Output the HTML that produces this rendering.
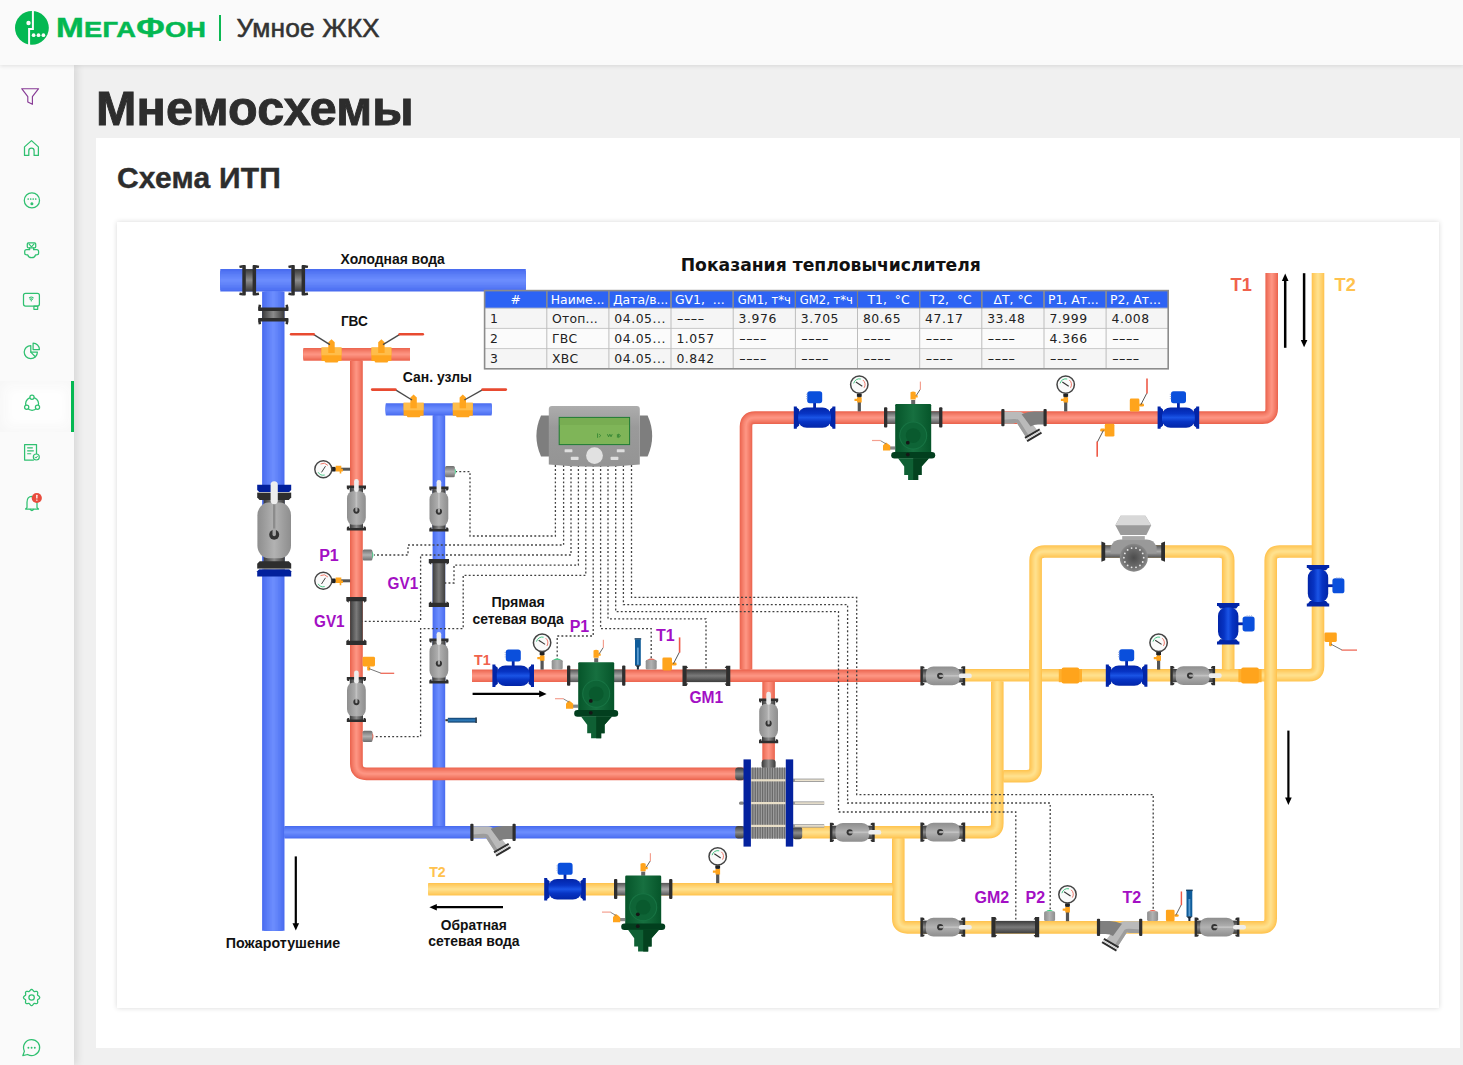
<!DOCTYPE html>
<html lang="ru"><head><meta charset="utf-8"><title>Мнемосхемы</title>
<style>
html,body{margin:0;padding:0}
body{width:1463px;height:1065px;overflow:hidden;background:#f0f0f0;font-family:"Liberation Sans",sans-serif;position:relative}
#hdr{position:absolute;left:0;top:0;width:1463px;height:65px;background:#fafafa;box-shadow:0 1px 4px rgba(0,0,0,.11);z-index:3}
#side{position:absolute;left:0;top:65px;width:74px;height:1000px;background:#fafafa;box-shadow:3px 0 8px rgba(0,0,0,.11);z-index:2}
#icons{position:absolute;left:0;top:0}
#act{position:absolute;left:0;top:315.6px;width:74px;height:51.2px;background:#fefefe;box-shadow:inset 0 0 12px 5px #f7f7f7}
#act i{position:absolute;right:0;top:0;width:2.9px;height:51.2px;background:#04b852}
#logo{position:absolute;left:14px;top:10px}
#brand{position:absolute;left:56px;top:7.6px;font-weight:bold;color:#04b852;white-space:nowrap;font-size:22px;line-height:40px;letter-spacing:.2px;transform:scaleX(1.235);transform-origin:0 0;-webkit-text-stroke:.5px #04b852}
#brand b{font-size:27px}
#sep{position:absolute;left:219.3px;top:15px;width:2.2px;height:26px;background:#0cb853}
#prod{position:absolute;left:236.6px;top:7.6px;font-size:26.4px;line-height:40px;color:#333;white-space:nowrap;letter-spacing:.1px;-webkit-text-stroke:.55px #333}
h1{position:absolute;left:96px;top:79.8px;margin:0;font-size:48.5px;line-height:56px;font-weight:bold;color:#2d2d2d;white-space:nowrap;letter-spacing:.2px;-webkit-text-stroke:.9px #2d2d2d}
#card{position:absolute;left:96px;top:138px;width:1364px;height:910px;background:#fff}
h2{position:absolute;left:117px;top:160px;margin:0;font-size:30px;line-height:36px;font-weight:bold;color:#2d2d2d;white-space:nowrap;letter-spacing:.2px;-webkit-text-stroke:.4px #2d2d2d}
#inner{position:absolute;left:117px;top:222px;width:1322px;height:786px;background:#fff;box-shadow:0 0 5px rgba(0,0,0,.16)}
#dia{position:absolute;left:117px;top:222px}
</style></head><body>
<div id="hdr">
<svg id="logo" width="36" height="36" viewBox="0 0 36 36"><circle cx="17.9" cy="17.9" r="16.9" fill="#04b852"/><path d="M18.9,0 V19 H15.1 V36" stroke="#fafafa" stroke-width="2" fill="none"/><circle cx="14.5" cy="13" r="2.2" fill="#fafafa"/><circle cx="19.6" cy="25.2" r="1.85" fill="#fafafa"/><circle cx="24.5" cy="25.2" r="1.85" fill="#fafafa"/><circle cx="29.4" cy="25.2" r="1.85" fill="#fafafa"/></svg>
<div id="brand"><b>М</b>ЕГА<b>Ф</b>ОН</div><div id="sep"></div><div id="prod">Умное ЖКХ</div>
</div>
<div id="side"><div id="act"><i></i></div>
<svg id="icons" width="74" height="1000" viewBox="0 65 74 1000" fill="none" stroke="#2fc070" stroke-width="1.25" stroke-linecap="round" stroke-linejoin="round"><path d="M21.7,88.7 H38.6 L32.4,96.6 V104.3 L27.8,101.9 V96.6 Z" stroke="#873a95" stroke-width="1.15"/><path d="M24.5,155.4 V146.9 L31.5,140.6 L38.4,146.9 V155.4 H34.1 V150.8 Q34.1,148.1 31.5,148.1 Q28.8,148.1 28.8,150.8 V155.4 Z"/><circle cx="31.9" cy="200.4" r="7.6"/><path d="M28.2,199h.01M30.7,199h.01M33.2,199h.01M35.7,199h.01" stroke-width="1.7"/><circle cx="31.9" cy="203.7" r=".9" fill="#2fc070"/><rect x="27.3" y="242.9" width="8.4" height="4.9" rx="1"/><path d="M28.9,243.8 L31.5,246.9 L34.1,243.8" stroke-width="1.1"/><path d="M29.6,247.8 V249.7 H26.6 Q24.7,249.7 24.7,251.6 V252.9 Q24.7,254.8 26.6,254.8 H27.8 A3.9,3.5 0 0 0 35.5,254.8 H36.7 Q38.6,254.8 38.6,252.9 V251.6 Q38.6,249.7 36.7,249.7 H33.6 V247.8"/><rect x="23.5" y="293.3" width="15.9" height="12.7" rx="2"/><path d="M29.4,297.8 Q31.3,296.2 33.2,297.8 M30.2,299.3 Q31.3,298.4 32.4,299.3" stroke-width="1.1"/><circle cx="31.3" cy="300.8" r=".7" fill="#2fc070" stroke="none"/><rect x="33.9" y="306.2" width="3.8" height="3.1" stroke-width="1.2"/><path d="M30.8,345.5 A6.6,6.6 0 1 0 37.4,352.1 H30.8 Z"/><path d="M33.1,343.2 A6.3,6.3 0 0 1 39.4,349.5 H33.1 Z"/><path d="M30.8,352.1 L35.3,356.7"/><circle cx="32.1" cy="403.8" r="6.5"/><circle cx="32" cy="397.3" r="2.1" fill="#fdfdfd"/><circle cx="26.7" cy="407.3" r="2.1" fill="#fdfdfd"/><circle cx="37.5" cy="407.3" r="2.1" fill="#fdfdfd"/><path d="M36.5,453.6 V444.6 H24.6 V460 H33.4"/><path d="M27.6,447.8H32.4M27.6,450.8H33.4M27.6,453.7H30.8" stroke-width="1.15"/><circle cx="36.3" cy="457" r="3" stroke-width="1.15"/><path d="M34.9,457.1l1,1l1.7,-2" stroke-width="1"/><path d="M27,507.6 V502.2 Q27,496.4 32,496.3 Q37,496.4 37,502.2 V507.6 L38.5,509 H25.6 Z"/><path d="M30.2,509.4 Q31.9,511.6 33.6,509.4"/><circle cx="36.8" cy="498" r="5.1" fill="#e84c3d" stroke="none"/><rect x="36.2" y="494.8" width="1.3" height="3.8" rx=".5" fill="#fff" stroke="none"/><rect x="36.2" y="499.5" width="1.3" height="1.3" rx=".5" fill="#fff" stroke="none"/><path d="M31.60,989.35 L32.37,989.64 L33.02,990.34 L33.54,991.09 L34.07,991.54 L34.76,991.59 L35.66,991.43 L36.61,991.39 L37.36,991.74 L37.71,992.49 L37.67,993.44 L37.51,994.34 L37.56,995.03 L38.01,995.56 L38.76,996.08 L39.46,996.73 L39.75,997.50 L39.46,998.27 L38.76,998.92 L38.01,999.44 L37.56,999.97 L37.51,1000.66 L37.67,1001.56 L37.71,1002.51 L37.36,1003.26 L36.61,1003.61 L35.66,1003.57 L34.76,1003.41 L34.07,1003.46 L33.54,1003.91 L33.02,1004.66 L32.37,1005.36 L31.60,1005.65 L30.83,1005.36 L30.18,1004.66 L29.66,1003.91 L29.13,1003.46 L28.44,1003.41 L27.54,1003.57 L26.59,1003.61 L25.84,1003.26 L25.49,1002.51 L25.53,1001.56 L25.69,1000.66 L25.64,999.97 L25.19,999.44 L24.44,998.92 L23.74,998.27 L23.45,997.50 L23.74,996.73 L24.44,996.08 L25.19,995.56 L25.64,995.03 L25.69,994.34 L25.53,993.44 L25.49,992.49 L25.84,991.74 L26.59,991.39 L27.54,991.43 L28.44,991.59 L29.13,991.54 L29.66,991.09 L30.18,990.34 L30.83,989.64 L31.60,989.35 Z"/><circle cx="31.6" cy="997.5" r="2.7"/><path d="M31.6,1039.6 A8,8 0 1 1 27.6,1054.5 L22.8,1055.6 L24.4,1051.2 A8,8 0 0 1 31.6,1039.6 Z"/><path d="M28.4,1047.7h.01M31.6,1047.7h.01M34.8,1047.7h.01" stroke-width="1.9"/></svg>
</div>
<h1>Мнемосхемы</h1>
<div id="card"></div>
<h2>Схема ИТП</h2>
<div id="inner"></div>
<svg id="dia" width="1322" height="786" viewBox="117 222 1322 786">
<defs>
<linearGradient id="gGreyH" x1="0" x2="1" y1="0" y2="0"><stop offset="0" stop-color="#8e8e8e"/><stop offset=".22" stop-color="#9d9d9d"/><stop offset=".5" stop-color="#b2b2b2"/><stop offset=".78" stop-color="#9d9d9d"/><stop offset="1" stop-color="#8e8e8e"/></linearGradient>
<linearGradient id="gGreyV" x1="0" x2="0" y1="0" y2="1"><stop offset="0" stop-color="#555"/><stop offset=".5" stop-color="#a8a8a8"/><stop offset="1" stop-color="#555"/></linearGradient>
<linearGradient id="gDarkH" x1="0" x2="1" y1="0" y2="0"><stop offset="0" stop-color="#3a3a3a"/><stop offset=".5" stop-color="#8c8c8c"/><stop offset="1" stop-color="#3a3a3a"/></linearGradient>
<linearGradient id="gDarkV" x1="0" x2="0" y1="0" y2="1"><stop offset="0" stop-color="#3a3a3a"/><stop offset=".5" stop-color="#8c8c8c"/><stop offset="1" stop-color="#3a3a3a"/></linearGradient>
<linearGradient id="gMeterH" x1="0" x2="1" y1="0" y2="0"><stop offset="0" stop-color="#3c3c3c"/><stop offset=".5" stop-color="#7a7a7a"/><stop offset="1" stop-color="#3c3c3c"/></linearGradient>
<linearGradient id="gBlueV" x1="0" x2="0" y1="0" y2="1"><stop offset="0" stop-color="#0225a8"/><stop offset=".3" stop-color="#0734c4"/><stop offset=".5" stop-color="#1a54e6"/><stop offset=".7" stop-color="#0734c4"/><stop offset="1" stop-color="#0225a8"/></linearGradient>
<linearGradient id="gGreenH" x1="0" x2="1" y1="0" y2="0"><stop offset="0" stop-color="#06552a"/><stop offset=".5" stop-color="#177040"/><stop offset="1" stop-color="#06552a"/></linearGradient>
<radialGradient id="gPump"><stop offset="0" stop-color="#4c4c4c"/><stop offset=".7" stop-color="#6e6e6e"/><stop offset="1" stop-color="#8a8a8a"/></radialGradient>
<linearGradient id="gSensor" x1="0" x2="0" y1="0" y2="1"><stop offset="0" stop-color="#6e6e6e"/><stop offset=".5" stop-color="#b0b0b0"/><stop offset="1" stop-color="#6e6e6e"/></linearGradient>
<linearGradient id="gThermo" x1="0" x2="0" y1="0" y2="1"><stop offset="0" stop-color="#0d3b66"/><stop offset=".5" stop-color="#2f7fc0"/><stop offset="1" stop-color="#0d3b66"/></linearGradient>
<linearGradient id="gDev" x1="0" x2="0" y1="0" y2="1"><stop offset="0" stop-color="#adadad"/><stop offset=".35" stop-color="#9a9a9a"/><stop offset="1" stop-color="#949494"/></linearGradient>

<!-- small ball valve, vertical, handle up. centre 0,0 ; height 44.5 width 19 -->
<g id="bv">
 <rect x="-6.6" y="-20.5" width="13.2" height="41" fill="url(#gDarkH)"/>
 <path d="M-9.6,-22.4h19.2v2.6l-.9,1.4h-1.5v-1.5h-14.4v1.5h-1.5l-.9,-1.4z" fill="#2e2e2e"/>
 <path d="M-9.6,22.4h19.2v-2.6l-.9,-1.4h-1.5v1.5h-14.4v-1.5h-1.5l-.9,1.4z" fill="#2e2e2e"/>
 <rect x="-9.4" y="-16.8" width="18.8" height="33.6" rx="6" ry="7.4" fill="url(#gGreyH)"/>
 <rect x="-0.8" y="-16" width="1.6" height="18" fill="#c2c2c2"/>
 <rect x="-2.3" y="-29" width="4.6" height="13" rx="2.2" fill="#eeeeee"/>
 <circle cx="0" cy="2.6" r="3.1" fill="#333"/>
 <path d="M-1.1,-1 h2.2 v3.7 a1.1,1.1 0 0 1 -2.2,0z" fill="#aaaaaa"/>
</g>

<g id="bvn">
 <rect x="-6.6" y="-20.5" width="13.2" height="41" fill="url(#gDarkH)"/>
 <path d="M-9.6,-22.4h19.2v2.6l-.9,1.4h-1.5v-1.5h-14.4v1.5h-1.5l-.9,-1.4z" fill="#2e2e2e"/>
 <path d="M-9.6,22.4h19.2v-2.6l-.9,-1.4h-1.5v1.5h-14.4v-1.5h-1.5l-.9,1.4z" fill="#2e2e2e"/>
 <rect x="-9.4" y="-16.8" width="18.8" height="33.6" rx="6" ry="7.4" fill="url(#gGreyH)"/>
 <rect x="-0.8" y="-16" width="1.6" height="18" fill="#c2c2c2"/>
 <circle cx="0" cy="2.6" r="3.1" fill="#333"/>
 <path d="M-1.1,-1 h2.2 v3.7 a1.1,1.1 0 0 1 -2.2,0z" fill="#aaaaaa"/>
</g>
<!-- big ball valve on main blue pipe, centre 0,0 (274,530.6) -->
<g id="bvbig">
 <rect x="-10.6" y="-40" width="21.2" height="80" fill="url(#gDarkH)"/>
 <path d="M-17,-45.9h34v5.3l-2,2h-30l-2,-2z" fill="#02209c"/>
 <path d="M-17,45.9h34v-5.3l-2,-2h-30l-2,2z" fill="#02209c"/>
 <rect x="-17" y="-38.6" width="34" height="1" fill="#ddd"/>
 <rect x="-17" y="37.6" width="34" height="1" fill="#ddd"/>
 <path d="M-17,-37.8h34v4.6l-2.4,2.6h-29.2l-2.4,-2.6z" fill="#2e2e2e"/>
 <path d="M-17,37.8h34v-4.6l-2.4,-2.6h-29.2l-2.4,2.6z" fill="#2e2e2e"/>
 <rect x="-16.8" y="-28" width="33.6" height="55.6" rx="11" ry="13" fill="url(#gGreyH)"/>
 <rect x="-1.2" y="-27" width="2.4" height="30" fill="#8c8c8c"/>
 <rect x="-3.6" y="-49.4" width="7.2" height="23" rx="3.6" fill="#eeeeee"/>
 <circle cx="0" cy="4.2" r="5" fill="#333"/>
 <path d="M-1.7,-2 h3.4 v6 a1.7,1.7 0 0 1 -3.4,0z" fill="#a6a6a6"/>
</g>

<!-- black flange coupling, for horizontal pipe of width 22; centre 0,0; width 13.7 -->
<g id="fl">
 <rect x="-4" y="-11.2" width="8" height="22.4" fill="url(#gDarkV)"/>
 <path d="M-6.4,-15.2 l-3.6,.6 l.5,2.4 l3.1,-.4z M-6.4,15.2 l-3.6,-.6 l.5,-2.4 l3.1,.4z M6.4,-15.2 l3.6,.6 l-.5,2.4 l-3.1,-.4z M6.4,15.2 l3.6,-.6 l-.5,-2.4 l-3.1,.4z" fill="#2e2e2e"/>
 <rect x="-6.9" y="-15.2" width="3.5" height="30.4" rx=".8" fill="#2e2e2e"/>
 <rect x="3.4" y="-15.2" width="3.5" height="30.4" rx=".8" fill="#2e2e2e"/>
</g>

<!-- dark meter (GV/GM), vertical, centre 0,0, height h=47.7 (flange to flange), pipe width 13 -->
<g id="mt">
 <rect x="-6.3" y="-20" width="12.6" height="40" fill="url(#gMeterH)"/>
 <path d="M-10.1,-23.9h20.2v4.2h-.4l-2,1.4v-1.4h-15.4v1.4l-2,-1.4h-.4z" fill="#2e2e2e"/>
 <path d="M-10.1,23.9h20.2v-4.2h-.4l-2,-1.4v1.4h-15.4v-1.4l-2,1.4h-.4z" fill="#2e2e2e"/>
</g>

<!-- blue flowmeter, horizontal; centre of pipe 0,0; width 41.6 -->
<g id="fm">
 <rect x="-1.4" y="-15.5" width="2.8" height="6" fill="#0225a8"/>
 <rect x="-7.4" y="-26.4" width="15" height="12" rx="2.6" fill="#0a4fdc"/>
 <path d="M-8.6,-23.3h1.4M-8.6,-21.1h1.4M-8.6,-18.9h1.4" stroke="#9aa8d8" stroke-width=".8"/>
 <path d="M-20.8,-11.2h3v1.2l2.4,2v16l-2.4,2v1.2h-3zM20.8,-11.2h-3v1.2l-2.4,2v16l2.4,2v1.2h3z" fill="#0225a8"/>
 <rect x="-16.4" y="-10.2" width="32.8" height="20.4" rx="8.6" ry="7.6" fill="url(#gBlueV)"/>
</g>

<!-- gauge (manometer) with stem down. circle centre 0,0 r 9.4 ; stem to y=+26.5 -->
<g id="gauge">
 <rect x="-1.6" y="9" width="3.2" height="17.8" fill="#555"/>
 <rect x="-2.4" y="9" width="4.8" height="3.2" fill="#222"/>
 <path d="M-4.8,14.2 h2.6 v-1.6 h4.6 v5.4 h-4.6 v-1.6 h-2.6 z" fill="#ffa41c"/>
 <circle r="8.7" fill="#fafafa" stroke="#444" stroke-width="1.5"/>
 <path d="M-5.6,-1.2 A5.8,5.8 0 0 1 1.5,-5.6" fill="none" stroke="#35c27a" stroke-width=".9"/>
 <path d="M3.6,-4.6 A5.8,5.8 0 0 1 4.8,3.2" fill="none" stroke="#ee6a5a" stroke-width=".9"/>
 <path d="M-3.4,-2.6 L3,1.6" stroke="#333" stroke-width="1.1"/>
</g>
<!-- gauge with stem to the right (for vertical red pipe). circle centre 0,0; stem to x=+26.5 -->
<g id="gaugeL">
 <rect x="9" y="-1.5" width="17.8" height="3" fill="#555"/>
 <rect x="8.6" y="-2.3" width="3.6" height="4.6" fill="#222"/>
 <path d="M12.4,-3.4 h5.6 v3 h1.6 v2.6 h-1.6 v2.2 h-1.6 v-2.2 h-4 z" fill="#ffa41c"/>
 <circle r="8.5" fill="#fafafa" stroke="#444" stroke-width="1.4"/>
 <path d="M-5.2,3 A6,6 0 0 0 1.4,5.8" fill="none" stroke="#35c27a" stroke-width=".9"/>
 <path d="M-2.8,-5.2 A6,6 0 0 1 4.6,-3.8" fill="none" stroke="#ee6a5a" stroke-width=".9"/>
 <path d="M-1.8,3.2 L2.2,-3" stroke="#444" stroke-width="1"/>
</g>

<!-- sensor sitting on top of horizontal pipe: base at y=0, extends up 10.6; centre x=0 -->
<g id="snG"><path d="M-4,-9.6 Q0,-12.4 4,-9.6z" fill="#2fd07c"/><rect x="-5.5" y="-9.8" width="11" height="9.8" rx="1.5" fill="url(#gGreyH)"/></g>
<g id="snR"><path d="M-4,-9.6 Q0,-12.4 4,-9.6z" fill="#f0604c"/><rect x="-5.5" y="-9.8" width="11" height="9.8" rx="1.5" fill="url(#gGreyH)"/></g>

<!-- thermometer vertical, bottom at 0, up 28 -->
<g id="th"><rect x="-3.3" y="-31.4" width="6.6" height="1.5" fill="#123a5c"/><rect x="-2.9" y="-30.2" width="5.8" height="26" fill="#0f5c9a"/><rect x="-.9" y="-22" width="1.8" height="17" fill="#5a9bd0"/><path d="M-2.9,-4.4 H2.9 L1,-2.6 V0 H-1 V-2.6z" fill="#1a2a3a"/></g>

<!-- green filter; pipe centre 0,0 ; body centre x 0 -->
<g id="gf">
 <rect x="-27" y="-6.3" width="54" height="12.6" fill="url(#gGreyV)"/>
 <rect x="-29.2" y="-10.3" width="3.3" height="20.2" rx="1" fill="#2e2e2e"/>
 <rect x="25.9" y="-10.3" width="3.3" height="20.2" rx="1" fill="#2e2e2e"/>
 <rect x="-2" y="-17.6" width="4" height="4.2" fill="#666"/>
 <path d="M-2.7,-25.4 q2.6,-1.4 5.2,0 v3 h2 v2.4 h-2 v2 h-5.2z" fill="#ffa41c"/>
 <path d="M3,-22 L7,-28.2" stroke="#555" stroke-width=".9" fill="none"/>
 <path d="M7.2,-28 V-36" stroke="#f4a090" stroke-width="1.2" fill="none"/>
 <rect x="-23.2" y="28.8" width="5.2" height="3.2" fill="#888"/>
 <path d="M-30.2,33 v-5 q1.5,-2.4 3,-3.2 q1.5,.8 4.2,3.2 v5z" fill="#ffa41c"/>
 <path d="M-27,26.4 L-32.8,23" stroke="#777" stroke-width=".9" fill="none"/>
 <path d="M-32.6,22.9 H-41.2" stroke="#f4a090" stroke-width="1.2" fill="none"/>
 <rect x="-18" y="-13.6" width="36" height="49" rx="1.2" fill="url(#gGreenH)"/>
 <circle cx="0" cy="18" r="14" fill="#187444" />
 <circle cx="0" cy="18" r="13" fill="#0e6436"/>
 <circle cx="0" cy="18" r="7.4" fill="#095a2e"/>
 <circle cx="-5.4" cy="25.1" r="1.9" fill="#161616"/>
 <rect x="-22" y="34.3" width="44" height="6.6" rx="3.3" fill="#023f1e"/>
 <circle cx="-5.4" cy="37" r="1.9" fill="#161616"/>
 <path d="M-15.2,40.6 H15.8 L8.4,49 V57.4 H5 V62.4 H-5.1 V57.4 H-9 V49 z" fill="#0f6034"/>
 <path d="M0,40.6 H15.8 L8.4,49 V57.4 H5 V62.4 H0 z" fill="#04421f"/>
</g>

<!-- Y strainer on horizontal pipe (w13); centre 0,0 ; width 45; branch down-right -->
<g id="ys">
 <path d="M-21,-5.9 H-5 Q-1,-5.9 1.4,-2.4 L13.4,12.6 L2,19.6 L-7.4,5 Q-8.4,5.8 -11,5.8 H-21z" fill="#bababa"/>
 <path d="M-21,5.8 H-11 Q-8.4,5.8 -7.4,5 L2,19.6 L4.8,17.9 L-5,2.6 Q-7,1.2 -10,1.5 L-21,2.2z" fill="#9c9c9c"/>
 <path d="M-2.4,-3.4 Q4,-6.2 10,-6.2 H21 V6.8 H14 Q9.4,6.8 6.6,8.9z" fill="#7f7f7f"/>
 <rect x="-22.7" y="-8.5" width="3.2" height="17.2" rx="1" fill="#2e2e2e"/>
 <rect x="19.5" y="-8.5" width="3.2" height="17.2" rx="1" fill="#2e2e2e"/>
 <path d="M1,20.2 L15.7,11.7" stroke="#2e2e2e" stroke-width="2" fill="none"/>
 <path d="M3.1,23.5 L17.5,15" stroke="#2e2e2e" stroke-width="2" fill="none"/>
 <path d="M2,21.9 L16.6,13.3" stroke="#d0d0d0" stroke-width="1.3" fill="none"/>
</g>

<!-- yellow small tap on top of pipe: base y=0 centre x=0; handle goes up-right -->
<g id="tapU">
 <rect x="-5.2" y="-12.6" width="9.6" height="12.8" rx="1.4" fill="#ffa41c"/>
 <rect x="4" y="-7.6" width="5" height="3" rx="1.4" fill="#ffa41c"/>
 <path d="M5.8,-6.4 L11.8,-18" stroke="#555" stroke-width="1" fill="none"/>
 <path d="M12,-17.6 V-32.8" stroke="#ee5a48" stroke-width="1.6" fill="none"/>
</g>

<!-- orange coupling on horizontal yellow pipe, centre 0,0 -->
<g id="cp"><rect x="-11.6" y="-6.6" width="23.2" height="13.2" fill="#ffb02e"/><rect x="-8.8" y="-8" width="17.6" height="16" rx="2" fill="#ffa41c"/></g>

<marker id="ah" viewBox="0 0 10 10" refX="8" refY="5" markerWidth="3.8" markerHeight="3.1" orient="auto-start-reverse"><path d="M0,0L10,5L0,10z" fill="#000"/></marker>
</defs>
<g id="pipes">
<path d="M1312.2,551.5 L1279.70,551.50 Q1270.7,551.5 1270.70,560.50 L1270.70,918.40 Q1270.7,927.4 1261.70,927.40 L907.30,927.40 Q898.3,927.4 898.30,918.40 L898.3,838.2" fill="none" stroke="#ffc451" stroke-width="12.60" stroke-linecap="butt" stroke-linejoin="round"/><path d="M1312.2,551.5 L1279.70,551.50 Q1270.7,551.5 1270.70,560.50 L1270.70,918.40 Q1270.7,927.4 1261.70,927.40 L907.30,927.40 Q898.3,927.4 898.30,918.40 L898.3,838.2" fill="none" stroke="#ffca5d" stroke-width="10.79" stroke-linecap="butt" stroke-linejoin="round"/><path d="M1312.2,551.5 L1279.70,551.50 Q1270.7,551.5 1270.70,560.50 L1270.70,918.40 Q1270.7,927.4 1261.70,927.40 L907.30,927.40 Q898.3,927.4 898.30,918.40 L898.3,838.2" fill="none" stroke="#ffce67" stroke-width="8.99" stroke-linecap="butt" stroke-linejoin="round"/><path d="M1312.2,551.5 L1279.70,551.50 Q1270.7,551.5 1270.70,560.50 L1270.70,918.40 Q1270.7,927.4 1261.70,927.40 L907.30,927.40 Q898.3,927.4 898.30,918.40 L898.3,838.2" fill="none" stroke="#ffd371" stroke-width="7.18" stroke-linecap="butt" stroke-linejoin="round"/><path d="M1312.2,551.5 L1279.70,551.50 Q1270.7,551.5 1270.70,560.50 L1270.70,918.40 Q1270.7,927.4 1261.70,927.40 L907.30,927.40 Q898.3,927.4 898.30,918.40 L898.3,838.2" fill="none" stroke="#ffd77a" stroke-width="5.38" stroke-linecap="butt" stroke-linejoin="round"/><path d="M1312.2,551.5 L1279.70,551.50 Q1270.7,551.5 1270.70,560.50 L1270.70,918.40 Q1270.7,927.4 1261.70,927.40 L907.30,927.40 Q898.3,927.4 898.30,918.40 L898.3,838.2" fill="none" stroke="#ffdc83" stroke-width="3.57" stroke-linecap="butt" stroke-linejoin="round"/><path d="M1312.2,551.5 L1279.70,551.50 Q1270.7,551.5 1270.70,560.50 L1270.70,918.40 Q1270.7,927.4 1261.70,927.40 L907.30,927.40 Q898.3,927.4 898.30,918.40 L898.3,838.2" fill="none" stroke="#ffe08c" stroke-width="1.76" stroke-linecap="butt" stroke-linejoin="round"/>
<path d="M428.2,889.2 H892.4" fill="none" stroke="#ffc451" stroke-width="12.40" stroke-linecap="butt" stroke-linejoin="round"/><path d="M428.2,889.2 H892.4" fill="none" stroke="#ffca5d" stroke-width="10.62" stroke-linecap="butt" stroke-linejoin="round"/><path d="M428.2,889.2 H892.4" fill="none" stroke="#ffce67" stroke-width="8.85" stroke-linecap="butt" stroke-linejoin="round"/><path d="M428.2,889.2 H892.4" fill="none" stroke="#ffd371" stroke-width="7.07" stroke-linecap="butt" stroke-linejoin="round"/><path d="M428.2,889.2 H892.4" fill="none" stroke="#ffd77a" stroke-width="5.29" stroke-linecap="butt" stroke-linejoin="round"/><path d="M428.2,889.2 H892.4" fill="none" stroke="#ffdc83" stroke-width="3.51" stroke-linecap="butt" stroke-linejoin="round"/><path d="M428.2,889.2 H892.4" fill="none" stroke="#ffe08c" stroke-width="1.74" stroke-linecap="butt" stroke-linejoin="round"/>
<path d="M965,675.3 H1240" fill="none" stroke="#ffc451" stroke-width="12.60" stroke-linecap="butt" stroke-linejoin="round"/><path d="M965,675.3 H1240" fill="none" stroke="#ffca5d" stroke-width="10.79" stroke-linecap="butt" stroke-linejoin="round"/><path d="M965,675.3 H1240" fill="none" stroke="#ffce67" stroke-width="8.99" stroke-linecap="butt" stroke-linejoin="round"/><path d="M965,675.3 H1240" fill="none" stroke="#ffd371" stroke-width="7.18" stroke-linecap="butt" stroke-linejoin="round"/><path d="M965,675.3 H1240" fill="none" stroke="#ffd77a" stroke-width="5.38" stroke-linecap="butt" stroke-linejoin="round"/><path d="M965,675.3 H1240" fill="none" stroke="#ffdc83" stroke-width="3.57" stroke-linecap="butt" stroke-linejoin="round"/><path d="M965,675.3 H1240" fill="none" stroke="#ffe08c" stroke-width="1.76" stroke-linecap="butt" stroke-linejoin="round"/>
<path d="M1228.2,669.2 L1228.20,560.50 Q1228.2,551.5 1219.20,551.50 L1044.60,551.50 Q1035.6,551.5 1035.60,560.50 L1035.60,767.20 Q1035.6,776.2 1026.60,776.20 L1003.4,776.2" fill="none" stroke="#ffc451" stroke-width="12.60" stroke-linecap="butt" stroke-linejoin="round"/><path d="M1228.2,669.2 L1228.20,560.50 Q1228.2,551.5 1219.20,551.50 L1044.60,551.50 Q1035.6,551.5 1035.60,560.50 L1035.60,767.20 Q1035.6,776.2 1026.60,776.20 L1003.4,776.2" fill="none" stroke="#ffca5d" stroke-width="10.79" stroke-linecap="butt" stroke-linejoin="round"/><path d="M1228.2,669.2 L1228.20,560.50 Q1228.2,551.5 1219.20,551.50 L1044.60,551.50 Q1035.6,551.5 1035.60,560.50 L1035.60,767.20 Q1035.6,776.2 1026.60,776.20 L1003.4,776.2" fill="none" stroke="#ffce67" stroke-width="8.99" stroke-linecap="butt" stroke-linejoin="round"/><path d="M1228.2,669.2 L1228.20,560.50 Q1228.2,551.5 1219.20,551.50 L1044.60,551.50 Q1035.6,551.5 1035.60,560.50 L1035.60,767.20 Q1035.6,776.2 1026.60,776.20 L1003.4,776.2" fill="none" stroke="#ffd371" stroke-width="7.18" stroke-linecap="butt" stroke-linejoin="round"/><path d="M1228.2,669.2 L1228.20,560.50 Q1228.2,551.5 1219.20,551.50 L1044.60,551.50 Q1035.6,551.5 1035.60,560.50 L1035.60,767.20 Q1035.6,776.2 1026.60,776.20 L1003.4,776.2" fill="none" stroke="#ffd77a" stroke-width="5.38" stroke-linecap="butt" stroke-linejoin="round"/><path d="M1228.2,669.2 L1228.20,560.50 Q1228.2,551.5 1219.20,551.50 L1044.60,551.50 Q1035.6,551.5 1035.60,560.50 L1035.60,767.20 Q1035.6,776.2 1026.60,776.20 L1003.4,776.2" fill="none" stroke="#ffdc83" stroke-width="3.57" stroke-linecap="butt" stroke-linejoin="round"/><path d="M1228.2,669.2 L1228.20,560.50 Q1228.2,551.5 1219.20,551.50 L1044.60,551.50 Q1035.6,551.5 1035.60,560.50 L1035.60,767.20 Q1035.6,776.2 1026.60,776.20 L1003.4,776.2" fill="none" stroke="#ffe08c" stroke-width="1.76" stroke-linecap="butt" stroke-linejoin="round"/>
<path d="M1318,273 L1318.00,666.30 Q1318,675.3 1309.00,675.30 L1230,675.3" fill="none" stroke="#ffc451" stroke-width="12.60" stroke-linecap="butt" stroke-linejoin="round"/><path d="M1318,273 L1318.00,666.30 Q1318,675.3 1309.00,675.30 L1230,675.3" fill="none" stroke="#ffca5d" stroke-width="10.79" stroke-linecap="butt" stroke-linejoin="round"/><path d="M1318,273 L1318.00,666.30 Q1318,675.3 1309.00,675.30 L1230,675.3" fill="none" stroke="#ffce67" stroke-width="8.99" stroke-linecap="butt" stroke-linejoin="round"/><path d="M1318,273 L1318.00,666.30 Q1318,675.3 1309.00,675.30 L1230,675.3" fill="none" stroke="#ffd371" stroke-width="7.18" stroke-linecap="butt" stroke-linejoin="round"/><path d="M1318,273 L1318.00,666.30 Q1318,675.3 1309.00,675.30 L1230,675.3" fill="none" stroke="#ffd77a" stroke-width="5.38" stroke-linecap="butt" stroke-linejoin="round"/><path d="M1318,273 L1318.00,666.30 Q1318,675.3 1309.00,675.30 L1230,675.3" fill="none" stroke="#ffdc83" stroke-width="3.57" stroke-linecap="butt" stroke-linejoin="round"/><path d="M1318,273 L1318.00,666.30 Q1318,675.3 1309.00,675.30 L1230,675.3" fill="none" stroke="#ffe08c" stroke-width="1.76" stroke-linecap="butt" stroke-linejoin="round"/>
<path d="M1270.7,600 L1270.7,700" fill="none" stroke="#ffc451" stroke-width="12.60" stroke-linecap="butt" stroke-linejoin="round"/><path d="M1270.7,600 L1270.7,700" fill="none" stroke="#ffca5d" stroke-width="10.79" stroke-linecap="butt" stroke-linejoin="round"/><path d="M1270.7,600 L1270.7,700" fill="none" stroke="#ffce67" stroke-width="8.99" stroke-linecap="butt" stroke-linejoin="round"/><path d="M1270.7,600 L1270.7,700" fill="none" stroke="#ffd371" stroke-width="7.18" stroke-linecap="butt" stroke-linejoin="round"/><path d="M1270.7,600 L1270.7,700" fill="none" stroke="#ffd77a" stroke-width="5.38" stroke-linecap="butt" stroke-linejoin="round"/><path d="M1270.7,600 L1270.7,700" fill="none" stroke="#ffdc83" stroke-width="3.57" stroke-linecap="butt" stroke-linejoin="round"/><path d="M1270.7,600 L1270.7,700" fill="none" stroke="#ffe08c" stroke-width="1.76" stroke-linecap="butt" stroke-linejoin="round"/>
<path d="M1035.6,640 L1035.6,700" fill="none" stroke="#ffc451" stroke-width="12.60" stroke-linecap="butt" stroke-linejoin="round"/><path d="M1035.6,640 L1035.6,700" fill="none" stroke="#ffca5d" stroke-width="10.79" stroke-linecap="butt" stroke-linejoin="round"/><path d="M1035.6,640 L1035.6,700" fill="none" stroke="#ffce67" stroke-width="8.99" stroke-linecap="butt" stroke-linejoin="round"/><path d="M1035.6,640 L1035.6,700" fill="none" stroke="#ffd371" stroke-width="7.18" stroke-linecap="butt" stroke-linejoin="round"/><path d="M1035.6,640 L1035.6,700" fill="none" stroke="#ffd77a" stroke-width="5.38" stroke-linecap="butt" stroke-linejoin="round"/><path d="M1035.6,640 L1035.6,700" fill="none" stroke="#ffdc83" stroke-width="3.57" stroke-linecap="butt" stroke-linejoin="round"/><path d="M1035.6,640 L1035.6,700" fill="none" stroke="#ffe08c" stroke-width="1.76" stroke-linecap="butt" stroke-linejoin="round"/>
<path d="M997.3,681.4 L997.30,823.20 Q997.3,832.2 988.30,832.20 L793,832.2" fill="none" stroke="#ffc451" stroke-width="12.60" stroke-linecap="butt" stroke-linejoin="round"/><path d="M997.3,681.4 L997.30,823.20 Q997.3,832.2 988.30,832.20 L793,832.2" fill="none" stroke="#ffca5d" stroke-width="10.79" stroke-linecap="butt" stroke-linejoin="round"/><path d="M997.3,681.4 L997.30,823.20 Q997.3,832.2 988.30,832.20 L793,832.2" fill="none" stroke="#ffce67" stroke-width="8.99" stroke-linecap="butt" stroke-linejoin="round"/><path d="M997.3,681.4 L997.30,823.20 Q997.3,832.2 988.30,832.20 L793,832.2" fill="none" stroke="#ffd371" stroke-width="7.18" stroke-linecap="butt" stroke-linejoin="round"/><path d="M997.3,681.4 L997.30,823.20 Q997.3,832.2 988.30,832.20 L793,832.2" fill="none" stroke="#ffd77a" stroke-width="5.38" stroke-linecap="butt" stroke-linejoin="round"/><path d="M997.3,681.4 L997.30,823.20 Q997.3,832.2 988.30,832.20 L793,832.2" fill="none" stroke="#ffdc83" stroke-width="3.57" stroke-linecap="butt" stroke-linejoin="round"/><path d="M997.3,681.4 L997.30,823.20 Q997.3,832.2 988.30,832.20 L793,832.2" fill="none" stroke="#ffe08c" stroke-width="1.76" stroke-linecap="butt" stroke-linejoin="round"/>
<path d="M220.3,280.3 H525.8" fill="none" stroke="#4a6df0" stroke-width="22.40" stroke-linecap="butt" stroke-linejoin="round"/><path d="M220.3,280.3 H525.8" fill="none" stroke="#5173f3" stroke-width="19.19" stroke-linecap="butt" stroke-linejoin="round"/><path d="M220.3,280.3 H525.8" fill="none" stroke="#5679f5" stroke-width="15.98" stroke-linecap="butt" stroke-linejoin="round"/><path d="M220.3,280.3 H525.8" fill="none" stroke="#5c7ef7" stroke-width="12.77" stroke-linecap="butt" stroke-linejoin="round"/><path d="M220.3,280.3 H525.8" fill="none" stroke="#6183f9" stroke-width="9.56" stroke-linecap="butt" stroke-linejoin="round"/><path d="M220.3,280.3 H525.8" fill="none" stroke="#6687fb" stroke-width="6.35" stroke-linecap="butt" stroke-linejoin="round"/><path d="M220.3,280.3 H525.8" fill="none" stroke="#6b8cfd" stroke-width="3.14" stroke-linecap="butt" stroke-linejoin="round"/>
<path d="M273.3,291.4 V930.7" fill="none" stroke="#4a6df0" stroke-width="22.40" stroke-linecap="butt" stroke-linejoin="round"/><path d="M273.3,291.4 V930.7" fill="none" stroke="#5173f3" stroke-width="19.19" stroke-linecap="butt" stroke-linejoin="round"/><path d="M273.3,291.4 V930.7" fill="none" stroke="#5679f5" stroke-width="15.98" stroke-linecap="butt" stroke-linejoin="round"/><path d="M273.3,291.4 V930.7" fill="none" stroke="#5c7ef7" stroke-width="12.77" stroke-linecap="butt" stroke-linejoin="round"/><path d="M273.3,291.4 V930.7" fill="none" stroke="#6183f9" stroke-width="9.56" stroke-linecap="butt" stroke-linejoin="round"/><path d="M273.3,291.4 V930.7" fill="none" stroke="#6687fb" stroke-width="6.35" stroke-linecap="butt" stroke-linejoin="round"/><path d="M273.3,291.4 V930.7" fill="none" stroke="#6b8cfd" stroke-width="3.14" stroke-linecap="butt" stroke-linejoin="round"/>
<path d="M438.9,415.2 V826.2" fill="none" stroke="#4a6df0" stroke-width="12.60" stroke-linecap="butt" stroke-linejoin="round"/><path d="M438.9,415.2 V826.2" fill="none" stroke="#5173f3" stroke-width="10.79" stroke-linecap="butt" stroke-linejoin="round"/><path d="M438.9,415.2 V826.2" fill="none" stroke="#5679f5" stroke-width="8.99" stroke-linecap="butt" stroke-linejoin="round"/><path d="M438.9,415.2 V826.2" fill="none" stroke="#5c7ef7" stroke-width="7.18" stroke-linecap="butt" stroke-linejoin="round"/><path d="M438.9,415.2 V826.2" fill="none" stroke="#6183f9" stroke-width="5.38" stroke-linecap="butt" stroke-linejoin="round"/><path d="M438.9,415.2 V826.2" fill="none" stroke="#6687fb" stroke-width="3.57" stroke-linecap="butt" stroke-linejoin="round"/><path d="M438.9,415.2 V826.2" fill="none" stroke="#6b8cfd" stroke-width="1.76" stroke-linecap="butt" stroke-linejoin="round"/>
<path d="M385.8,409.3 H491.6" fill="none" stroke="#4a6df0" stroke-width="12.20" stroke-linecap="butt" stroke-linejoin="round"/><path d="M385.8,409.3 H491.6" fill="none" stroke="#5173f3" stroke-width="10.45" stroke-linecap="butt" stroke-linejoin="round"/><path d="M385.8,409.3 H491.6" fill="none" stroke="#5679f5" stroke-width="8.70" stroke-linecap="butt" stroke-linejoin="round"/><path d="M385.8,409.3 H491.6" fill="none" stroke="#5c7ef7" stroke-width="6.95" stroke-linecap="butt" stroke-linejoin="round"/><path d="M385.8,409.3 H491.6" fill="none" stroke="#6183f9" stroke-width="5.21" stroke-linecap="butt" stroke-linejoin="round"/><path d="M385.8,409.3 H491.6" fill="none" stroke="#6687fb" stroke-width="3.46" stroke-linecap="butt" stroke-linejoin="round"/><path d="M385.8,409.3 H491.6" fill="none" stroke="#6b8cfd" stroke-width="1.71" stroke-linecap="butt" stroke-linejoin="round"/>
<path d="M284.4,832.2 H745" fill="none" stroke="#4a6df0" stroke-width="12.40" stroke-linecap="butt" stroke-linejoin="round"/><path d="M284.4,832.2 H745" fill="none" stroke="#5173f3" stroke-width="10.62" stroke-linecap="butt" stroke-linejoin="round"/><path d="M284.4,832.2 H745" fill="none" stroke="#5679f5" stroke-width="8.85" stroke-linecap="butt" stroke-linejoin="round"/><path d="M284.4,832.2 H745" fill="none" stroke="#5c7ef7" stroke-width="7.07" stroke-linecap="butt" stroke-linejoin="round"/><path d="M284.4,832.2 H745" fill="none" stroke="#6183f9" stroke-width="5.29" stroke-linecap="butt" stroke-linejoin="round"/><path d="M284.4,832.2 H745" fill="none" stroke="#6687fb" stroke-width="3.51" stroke-linecap="butt" stroke-linejoin="round"/><path d="M284.4,832.2 H745" fill="none" stroke="#6b8cfd" stroke-width="1.74" stroke-linecap="butt" stroke-linejoin="round"/>
<path d="M356.4,360.6 L356.40,763.80 Q356.4,773.8 366.40,773.80 L745,773.8" fill="none" stroke="#ec6650" stroke-width="12.80" stroke-linecap="butt" stroke-linejoin="round"/><path d="M356.4,360.6 L356.40,763.80 Q356.4,773.8 366.40,773.80 L745,773.8" fill="none" stroke="#ef6f5a" stroke-width="10.97" stroke-linecap="butt" stroke-linejoin="round"/><path d="M356.4,360.6 L356.40,763.80 Q356.4,773.8 366.40,773.80 L745,773.8" fill="none" stroke="#f27763" stroke-width="9.13" stroke-linecap="butt" stroke-linejoin="round"/><path d="M356.4,360.6 L356.40,763.80 Q356.4,773.8 366.40,773.80 L745,773.8" fill="none" stroke="#f57f6b" stroke-width="7.30" stroke-linecap="butt" stroke-linejoin="round"/><path d="M356.4,360.6 L356.40,763.80 Q356.4,773.8 366.40,773.80 L745,773.8" fill="none" stroke="#f88673" stroke-width="5.46" stroke-linecap="butt" stroke-linejoin="round"/><path d="M356.4,360.6 L356.40,763.80 Q356.4,773.8 366.40,773.80 L745,773.8" fill="none" stroke="#fa8d7a" stroke-width="3.63" stroke-linecap="butt" stroke-linejoin="round"/><path d="M356.4,360.6 L356.40,763.80 Q356.4,773.8 366.40,773.80 L745,773.8" fill="none" stroke="#fd9482" stroke-width="1.79" stroke-linecap="butt" stroke-linejoin="round"/>
<path d="M303.4,354.3 H410" fill="none" stroke="#ec6650" stroke-width="12.80" stroke-linecap="butt" stroke-linejoin="round"/><path d="M303.4,354.3 H410" fill="none" stroke="#ef6f5a" stroke-width="10.97" stroke-linecap="butt" stroke-linejoin="round"/><path d="M303.4,354.3 H410" fill="none" stroke="#f27763" stroke-width="9.13" stroke-linecap="butt" stroke-linejoin="round"/><path d="M303.4,354.3 H410" fill="none" stroke="#f57f6b" stroke-width="7.30" stroke-linecap="butt" stroke-linejoin="round"/><path d="M303.4,354.3 H410" fill="none" stroke="#f88673" stroke-width="5.46" stroke-linecap="butt" stroke-linejoin="round"/><path d="M303.4,354.3 H410" fill="none" stroke="#fa8d7a" stroke-width="3.63" stroke-linecap="butt" stroke-linejoin="round"/><path d="M303.4,354.3 H410" fill="none" stroke="#fd9482" stroke-width="1.79" stroke-linecap="butt" stroke-linejoin="round"/>
<path d="M1271.7,273 L1271.70,408.60 Q1271.7,417.6 1262.70,417.60 L755.00,417.60 Q746,417.6 746.00,426.60 L746,669.6" fill="none" stroke="#ec6650" stroke-width="12.60" stroke-linecap="butt" stroke-linejoin="round"/><path d="M1271.7,273 L1271.70,408.60 Q1271.7,417.6 1262.70,417.60 L755.00,417.60 Q746,417.6 746.00,426.60 L746,669.6" fill="none" stroke="#ef6f5a" stroke-width="10.79" stroke-linecap="butt" stroke-linejoin="round"/><path d="M1271.7,273 L1271.70,408.60 Q1271.7,417.6 1262.70,417.60 L755.00,417.60 Q746,417.6 746.00,426.60 L746,669.6" fill="none" stroke="#f27763" stroke-width="8.99" stroke-linecap="butt" stroke-linejoin="round"/><path d="M1271.7,273 L1271.70,408.60 Q1271.7,417.6 1262.70,417.60 L755.00,417.60 Q746,417.6 746.00,426.60 L746,669.6" fill="none" stroke="#f57f6b" stroke-width="7.18" stroke-linecap="butt" stroke-linejoin="round"/><path d="M1271.7,273 L1271.70,408.60 Q1271.7,417.6 1262.70,417.60 L755.00,417.60 Q746,417.6 746.00,426.60 L746,669.6" fill="none" stroke="#f88673" stroke-width="5.38" stroke-linecap="butt" stroke-linejoin="round"/><path d="M1271.7,273 L1271.70,408.60 Q1271.7,417.6 1262.70,417.60 L755.00,417.60 Q746,417.6 746.00,426.60 L746,669.6" fill="none" stroke="#fa8d7a" stroke-width="3.57" stroke-linecap="butt" stroke-linejoin="round"/><path d="M1271.7,273 L1271.70,408.60 Q1271.7,417.6 1262.70,417.60 L755.00,417.60 Q746,417.6 746.00,426.60 L746,669.6" fill="none" stroke="#fd9482" stroke-width="1.76" stroke-linecap="butt" stroke-linejoin="round"/>
<path d="M768.6,682 V762" fill="none" stroke="#ec6650" stroke-width="12.60" stroke-linecap="butt" stroke-linejoin="round"/><path d="M768.6,682 V762" fill="none" stroke="#ef6f5a" stroke-width="10.79" stroke-linecap="butt" stroke-linejoin="round"/><path d="M768.6,682 V762" fill="none" stroke="#f27763" stroke-width="8.99" stroke-linecap="butt" stroke-linejoin="round"/><path d="M768.6,682 V762" fill="none" stroke="#f57f6b" stroke-width="7.18" stroke-linecap="butt" stroke-linejoin="round"/><path d="M768.6,682 V762" fill="none" stroke="#f88673" stroke-width="5.38" stroke-linecap="butt" stroke-linejoin="round"/><path d="M768.6,682 V762" fill="none" stroke="#fa8d7a" stroke-width="3.57" stroke-linecap="butt" stroke-linejoin="round"/><path d="M768.6,682 V762" fill="none" stroke="#fd9482" stroke-width="1.76" stroke-linecap="butt" stroke-linejoin="round"/>
<path d="M472,675.8 H921" fill="none" stroke="#ec6650" stroke-width="12.60" stroke-linecap="butt" stroke-linejoin="round"/><path d="M472,675.8 H921" fill="none" stroke="#ef6f5a" stroke-width="10.79" stroke-linecap="butt" stroke-linejoin="round"/><path d="M472,675.8 H921" fill="none" stroke="#f27763" stroke-width="8.99" stroke-linecap="butt" stroke-linejoin="round"/><path d="M472,675.8 H921" fill="none" stroke="#f57f6b" stroke-width="7.18" stroke-linecap="butt" stroke-linejoin="round"/><path d="M472,675.8 H921" fill="none" stroke="#f88673" stroke-width="5.38" stroke-linecap="butt" stroke-linejoin="round"/><path d="M472,675.8 H921" fill="none" stroke="#fa8d7a" stroke-width="3.57" stroke-linecap="butt" stroke-linejoin="round"/><path d="M472,675.8 H921" fill="none" stroke="#fd9482" stroke-width="1.76" stroke-linecap="butt" stroke-linejoin="round"/>
</g>
<g fill="none" stroke="#404040" stroke-width="1.3" stroke-dasharray="1.9 2.2"><path d="M555.4,465 L555.4,536 L470,536 L470,471.6 L456,471.6"/><path d="M563.6,465 L563.6,545 L408,545 L408,555 L374,555"/><path d="M571.0,465 L571.0,555 L420.6,555 L420.6,621.4 L362,621.4"/><path d="M578.4,465 L578.4,565.2 L454,565.2 L454,583 L445,583"/><path d="M585.8,465 L585.8,575.3 L463.2,575.3 L463.2,628.6 L420.6,628.6 L420.6,736.6 L374,736.6"/><path d="M593.2,465 L593.2,636 L557.2,636 L557.2,659"/><path d="M600.6,465 L600.6,628.6 L651.2,628.6 L651.2,659"/><path d="M608.0,465 L608.0,618.8 L706,618.8 L706,669"/><path d="M615.7,465 L615.7,611.6 L838.5,611.6 L838.5,812 L1015.8,812 L1015.8,921"/><path d="M623.4,465 L623.4,604.6 L847.6,604.6 L847.6,803 L1050.2,803 L1050.2,910"/><path d="M631.5,465 L631.5,597.4 L856.7,597.4 L856.7,794.6 L1153.2,794.6 L1153.2,910"/></g>
<use href="#fl" transform="translate(249.2,280.3)"/>
<use href="#fl" transform="translate(298.2,280.3)"/>
<use href="#fl" transform="translate(273.3,314.5) rotate(90)"/>
<use href="#bvbig" transform="translate(274.2,530.6)"/>
<g transform="translate(331.5,354.3)"><path d="M-10,-6.800000000000001 H10 V6.800000000000001 H7 L6,8.200000000000001 H-6 L-7,6.800000000000001 H-10z" fill="#ffa51e"/><path d="M-10,-6.800000000000001 H10 V1 H-10z" fill="#ffbd4a"/><path d="M-3.2,-6.4 V-12.0 L0,-15.0 L3.2,-12.0 V-1.4000000000000004 H-3.2z" fill="#ffa51e"/><path d="M-1.6,-9.600000000000001 L-18,-19.9" stroke="#4a4a4a" stroke-width="1.4" fill="none"/><path d="M-17.8,-20.0 H-40.4" stroke="#e84a30" stroke-width="2.6" stroke-linecap="round" fill="none"/></g>
<g transform="translate(381.4,354.3)"><path d="M-10,-6.800000000000001 H10 V6.800000000000001 H7 L6,8.200000000000001 H-6 L-7,6.800000000000001 H-10z" fill="#ffa51e"/><path d="M-10,-6.800000000000001 H10 V1 H-10z" fill="#ffbd4a"/><path d="M-3.2,-6.4 V-12.0 L0,-15.0 L3.2,-12.0 V-1.4000000000000004 H-3.2z" fill="#ffa51e"/><path d="M1.6,-9.600000000000001 L18.4,-19.9" stroke="#4a4a4a" stroke-width="1.4" fill="none"/><path d="M18.2,-20.0 H41.4" stroke="#e84a30" stroke-width="2.6" stroke-linecap="round" fill="none"/></g>
<g transform="translate(413.6,409.3)"><path d="M-10,-6.5 H10 V6.5 H7 L6,7.8999999999999995 H-6 L-7,6.5 H-10z" fill="#ffa51e"/><path d="M-10,-6.5 H10 V1 H-10z" fill="#ffbd4a"/><path d="M-3.2,-6.1 V-11.7 L0,-14.7 L3.2,-11.7 V-1.0999999999999996 H-3.2z" fill="#ffa51e"/><path d="M-1.6,-9.3 L-18.4,-19.6" stroke="#4a4a4a" stroke-width="1.4" fill="none"/><path d="M-18.2,-19.7 H-41.4" stroke="#e84a30" stroke-width="2.6" stroke-linecap="round" fill="none"/></g>
<g transform="translate(462.8,409.3)"><path d="M-10,-6.5 H10 V6.5 H7 L6,7.8999999999999995 H-6 L-7,6.5 H-10z" fill="#ffa51e"/><path d="M-10,-6.5 H10 V1 H-10z" fill="#ffbd4a"/><path d="M-3.2,-6.1 V-11.7 L0,-14.7 L3.2,-11.7 V-1.0999999999999996 H-3.2z" fill="#ffa51e"/><path d="M1.6,-9.3 L20,-19.6" stroke="#4a4a4a" stroke-width="1.4" fill="none"/><path d="M19.8,-19.7 H43" stroke="#e84a30" stroke-width="2.6" stroke-linecap="round" fill="none"/></g>
<use href="#gaugeL" transform="translate(323.3,469.2)"/>
<use href="#gaugeL" transform="translate(323.3,580.8)"/>
<use href="#bv" transform="translate(356.4,508)"/>
<use href="#bv" transform="translate(356.4,699.5)"/>
<use href="#mt" transform="translate(356.4,621)"/>
<g transform="translate(362.6,555)"><path d="M9.4,-4 Q12.2,0 9.4,4z" fill="#2fd07c"/><rect x="0" y="-5.6" width="9.8" height="11.2" rx="1.5" fill="url(#gSensor)"/></g>
<g transform="translate(362.6,736.4)"><path d="M9.4,-4 Q12.2,0 9.4,4z" fill="#f0604c"/><rect x="0" y="-5.6" width="9.8" height="11.2" rx="1.5" fill="url(#gSensor)"/></g>
<g transform="translate(445,471.6)"><path d="M9.4,-4 Q12.2,0 9.4,4z" fill="#2fd07c"/><rect x="0" y="-5.6" width="9.8" height="11.2" rx="1.5" fill="url(#gSensor)"/></g>
<g transform="translate(362.6,663)"><rect x="0" y="-6.2" width="12.4" height="9.6" rx="1.4" fill="#ffa41c"/><rect x="4.6" y="3" width="3" height="4.6" rx="1.2" fill="#ffa41c"/><path d="M6.4,5.6 L18.4,10.2" stroke="#777" stroke-width="1" fill="none"/><path d="M18,10.3 H31.6" stroke="#ee6a58" stroke-width="1.3" fill="none"/></g>
<use href="#bv" transform="translate(438.9,509)"/>
<use href="#bv" transform="translate(438.9,661)"/>
<use href="#mt" transform="translate(438.9,583)"/>
<g transform="translate(445.4,720.2)"><rect x="0" y="-1" width="3" height="2" fill="#333"/><rect x="2.4" y="-2.4" width="28" height="4.8" fill="url(#gThermo)"/><rect x="30" y="-2.8" width="1.4" height="5.6" fill="#123"/></g>
<use href="#ys" transform="translate(493,832.2)"/>
<use href="#fm" transform="translate(513.2,675.8)"/>
<use href="#gauge" transform="translate(542.1,642.8)"/>
<use href="#snG" transform="translate(557.2,669.6)"/>
<use href="#gf" transform="translate(596.2,675.8)"/>
<use href="#th" transform="translate(637.9,669.6)"/>
<use href="#snR" transform="translate(651.2,669.6)"/>
<use href="#tapU" transform="translate(667.6,670.2)"/>
<use href="#mt" transform="translate(706.4,675.8) rotate(90)"/>
<use href="#bv" transform="translate(768.6,720.8)"/>
<use href="#bv" transform="translate(942.8,675.8) rotate(90)"/>
<g id="hx"><rect x="735.2" y="767.6" width="9" height="12.6" rx="3" fill="url(#gDarkV)"/><rect x="735.2" y="826" width="9" height="12.6" rx="3" fill="url(#gDarkV)"/><rect x="792.6" y="826.6" width="9.6" height="12.6" rx="3" fill="url(#gDarkV)"/><rect x="761.6" y="759.4" width="14" height="9.6" rx="3" fill="url(#gDarkH)"/><rect x="739" y="801.4" width="5" height="3.4" rx="1.6" fill="#888"/><rect x="751" y="767.6" width="34.6" height="71" fill="#9c9c9c"/><rect x="752.2" y="767.6" width="1.2" height="71" fill="#6a6a6a"/><rect x="754.7" y="767.6" width="1.2" height="71" fill="#6a6a6a"/><rect x="757.1" y="767.6" width="1.2" height="71" fill="#6a6a6a"/><rect x="759.6" y="767.6" width="1.2" height="71" fill="#6a6a6a"/><rect x="762.0" y="767.6" width="1.2" height="71" fill="#6a6a6a"/><rect x="764.5" y="767.6" width="1.2" height="71" fill="#6a6a6a"/><rect x="766.9" y="767.6" width="1.2" height="71" fill="#6a6a6a"/><rect x="769.4" y="767.6" width="1.2" height="71" fill="#6a6a6a"/><rect x="771.8" y="767.6" width="1.2" height="71" fill="#6a6a6a"/><rect x="774.3" y="767.6" width="1.2" height="71" fill="#6a6a6a"/><rect x="776.7" y="767.6" width="1.2" height="71" fill="#6a6a6a"/><rect x="779.2" y="767.6" width="1.2" height="71" fill="#6a6a6a"/><rect x="781.6" y="767.6" width="1.2" height="71" fill="#6a6a6a"/><rect x="784.1" y="767.6" width="1.2" height="71" fill="#6a6a6a"/><rect x="751" y="779.1999999999999" width="34.6" height="2.2" fill="#e9dfc8"/><rect x="793" y="778.5999999999999" width="31.2" height="3.4" fill="#9a9a9a"/><rect x="795" y="779.5" width="29.2" height="1.6" fill="#ece3cf"/><rect x="751" y="802.0" width="34.6" height="2.2" fill="#e9dfc8"/><rect x="793" y="801.4" width="31.2" height="3.4" fill="#9a9a9a"/><rect x="795" y="802.3000000000001" width="29.2" height="1.6" fill="#ece3cf"/><rect x="751" y="824.8" width="34.6" height="2.2" fill="#e9dfc8"/><rect x="793" y="824.1999999999999" width="31.2" height="3.4" fill="#9a9a9a"/><rect x="795" y="825.1" width="29.2" height="1.6" fill="#ece3cf"/><rect x="743.5" y="759.4" width="7.4" height="87.2" fill="#04229e"/><rect x="785.8" y="759.4" width="7.4" height="87.2" fill="#04229e"/></g>
<use href="#fm" transform="translate(814.6,417.6)"/>
<use href="#gauge" transform="translate(859.3,384.6)"/>
<use href="#gf" transform="translate(913.2,417.6)"/>
<use href="#ys" transform="translate(1024,417.6)"/>
<use href="#gauge" transform="translate(1065.7,384.6)"/>
<use href="#tapU" transform="translate(1135,411.2)"/>
<use href="#tapU" transform="translate(1109.2,424) rotate(180)"/>
<use href="#fm" transform="translate(1178.4,417.6)"/>
<g id="pump" transform="translate(1133.6,551.5)"><rect x="-29" y="-6.3" width="58" height="12.6" fill="url(#gGreyV)"/><path d="M-23,-5 Q-20,-12 -13,-12 H13 Q20,-12 23,-5 V2 H-23z" fill="#999"/><rect x="-11.4" y="-15.4" width="22.6" height="4" fill="#a8a8a8"/><path d="M-13,-35.8 H11.8 L17.6,-26.2 L12.8,-16.6 H-13 L-18.2,-26.2z" fill="#9b9b9b"/><path d="M-13,-35.8 H11.8 L17.6,-26.2 H-18.2z" fill="#d8d8d8"/><path d="M-32.2,-10 l3.8,1.4 v17.4 l-3.8,1.4z M31.4,-10 l-3.8,1.4 v17.4 l3.8,1.4z" fill="#2e2e2e"/><circle cx="0.2" cy="6.2" r="14" fill="url(#gPump)"/><circle cx="10.10" cy="6.20" r=".9" fill="#e8e8e8"/><circle cx="9.12" cy="10.50" r=".9" fill="#e8e8e8"/><circle cx="6.37" cy="13.94" r=".9" fill="#e8e8e8"/><circle cx="2.40" cy="15.85" r=".9" fill="#e8e8e8"/><circle cx="-2.00" cy="15.85" r=".9" fill="#e8e8e8"/><circle cx="-5.97" cy="13.94" r=".9" fill="#e8e8e8"/><circle cx="-8.72" cy="10.50" r=".9" fill="#e8e8e8"/><circle cx="-9.70" cy="6.20" r=".9" fill="#e8e8e8"/><circle cx="-8.72" cy="1.90" r=".9" fill="#e8e8e8"/><circle cx="-5.97" cy="-1.54" r=".9" fill="#e8e8e8"/><circle cx="-2.00" cy="-3.45" r=".9" fill="#e8e8e8"/><circle cx="2.40" cy="-3.45" r=".9" fill="#e8e8e8"/><circle cx="6.37" cy="-1.54" r=".9" fill="#e8e8e8"/><circle cx="9.12" cy="1.90" r=".9" fill="#e8e8e8"/></g>
<use href="#fm" transform="translate(1228.2,623.8) rotate(90)"/>
<use href="#fm" transform="translate(1318,585.7) rotate(90)"/>
<use href="#cp" transform="translate(1070.4,675.6)"/>
<use href="#cp" transform="translate(1250,675.6)"/>
<use href="#fm" transform="translate(1126.6,675.6)"/>
<use href="#gauge" transform="translate(1158.6,642.8)"/>
<use href="#bv" transform="translate(1192.7,675.6) rotate(90)"/>
<g transform="translate(1324.4,638.6)"><rect x="0" y="-6" width="12.4" height="9.4" rx="1.4" fill="#ffa41c"/><rect x="4.6" y="3" width="3" height="4.6" rx="1.2" fill="#ffa41c"/><path d="M6.6,5.6 L17.6,11.4" stroke="#777" stroke-width="1" fill="none"/><path d="M17.2,11.5 H32.6" stroke="#ee6a58" stroke-width="1.3" fill="none"/></g>
<use href="#bv" transform="translate(852.3,832.3) rotate(90)"/>
<use href="#bvn" transform="translate(942.8,832.2) rotate(90)"/>
<use href="#bv" transform="translate(942.8,927.2) rotate(90)"/>
<use href="#bv" transform="translate(1217,927.2) rotate(90)"/>
<use href="#mt" transform="translate(1015.3,927.2) rotate(90)"/>
<use href="#snG" transform="translate(1049.6,921)"/>
<use href="#gauge" transform="translate(1067.5,894.4)"/>
<use href="#ys" transform="translate(1119.6,927.2) scale(-1,1)"/>
<use href="#snR" transform="translate(1152.6,921)"/>
<use href="#tapU" transform="translate(1170.6,921) scale(0.9,0.9)"/>
<use href="#th" transform="translate(1189.4,921)"/>
<use href="#fm" transform="translate(565,889.2)"/>
<use href="#gf" transform="translate(643.2,889.2)"/>
<use href="#gauge" transform="translate(717.7,856.4)"/>
<g id="dev"><path d="M549,415.6 H541 Q531.8,436 541,456.6 H549z" fill="#7e7e7e"/><path d="M639.6,415.6 H647.6 Q656.8,436 647.6,456.6 H639.6z" fill="#7e7e7e"/><path d="M548.8,409 Q548.8,406 551.8,406 H636.8 Q639.8,406 639.8,409 V464.4 Q594.3,469 548.8,464.4z" fill="url(#gDev)"/><rect x="559.2" y="417.4" width="70.4" height="27.2" fill="#7fb558" stroke="#1f7a34" stroke-width="1"/><rect x="559.8" y="418" width="69.2" height="7" fill="#78ad52"/><path d="M597.6,433.4v4.4M599.2,434.2l1.6,1.4l-1.6,1.4M607.4,434.2l1.2,2.6l1.2,-2.6l1.2,2.6l1.2,-2.6M617.4,434.2v3.4M618.6,434l2,1.8l-2,1.8z" stroke="#3a8a36" stroke-width="1" fill="none"/><circle cx="594.5" cy="455.6" r="8.4" fill="#e1e1e1"/><rect x="564.6" y="449.2" width="7.8" height="3.1" rx=".6" fill="#dedede"/><rect x="570.8" y="456.8" width="7.8" height="3.1" rx=".6" fill="#dedede"/><rect x="616.8" y="449.2" width="7.8" height="3.1" rx=".6" fill="#dedede"/><rect x="610.6" y="456.8" width="7.8" height="3.1" rx=".6" fill="#dedede"/></g>
<path d="M472.6,693.9 L540.20,693.90" stroke="#000" stroke-width="2.2" fill="none"/><path d="M546.6,693.9 L539.20,697.20 L539.20,690.60z" fill="#000"/>
<path d="M503,907.2 L435.80,907.20" stroke="#000" stroke-width="2.2" fill="none"/><path d="M429.4,907.2 L436.80,903.90 L436.80,910.50z" fill="#000"/>
<path d="M295.8,856.4 L295.80,924.20" stroke="#000" stroke-width="2.2" fill="none"/><path d="M295.8,930.6 L292.50,923.20 L299.10,923.20z" fill="#000"/>
<path d="M1285.2,347.8 L1285.20,280.00" stroke="#000" stroke-width="2.5" fill="none"/><path d="M1285.2,273.6 L1288.50,281.00 L1281.90,281.00z" fill="#000"/>
<path d="M1304.1,273.2 L1304.10,340.90" stroke="#000" stroke-width="2.5" fill="none"/><path d="M1304.1,347.3 L1300.80,339.90 L1307.40,339.90z" fill="#000"/>
<path d="M1288.4,730.6 L1288.40,798.60" stroke="#000" stroke-width="2.2" fill="none"/><path d="M1288.4,805 L1285.10,797.60 L1291.70,797.60z" fill="#000"/>
<g id="tbl" font-family="'DejaVu Sans', sans-serif" font-size="12.4"><rect x="484.6" y="290.6" width="683.6" height="78.2" fill="#f5f5f5"/><rect x="484.6" y="290.6" width="683.6" height="17.6" fill="#2d63f4"/><rect x="484.6" y="328.40000000000003" width="683.6" height="20.2" fill="#fbfbfb"/><path d="M484.6,308.2 H1168.2" stroke="#c8c8c8" stroke-width="1"/><path d="M484.6,328.4 H1168.2" stroke="#c8c8c8" stroke-width="1"/><path d="M484.6,348.6 H1168.2" stroke="#c8c8c8" stroke-width="1"/><path d="M546.8,290.6 V368.8" stroke="#bdbdbd" stroke-width="1"/><path d="M546.8,290.6 V308.20000000000005" stroke="#808080" stroke-width="1.2"/><path d="M608.9,290.6 V368.8" stroke="#bdbdbd" stroke-width="1"/><path d="M608.9,290.6 V308.20000000000005" stroke="#808080" stroke-width="1.2"/><path d="M671.0,290.6 V368.8" stroke="#bdbdbd" stroke-width="1"/><path d="M671.0,290.6 V308.20000000000005" stroke="#808080" stroke-width="1.2"/><path d="M733.2,290.6 V368.8" stroke="#bdbdbd" stroke-width="1"/><path d="M733.2,290.6 V308.20000000000005" stroke="#808080" stroke-width="1.2"/><path d="M795.4,290.6 V368.8" stroke="#bdbdbd" stroke-width="1"/><path d="M795.4,290.6 V308.20000000000005" stroke="#808080" stroke-width="1.2"/><path d="M857.5,290.6 V368.8" stroke="#bdbdbd" stroke-width="1"/><path d="M857.5,290.6 V308.20000000000005" stroke="#808080" stroke-width="1.2"/><path d="M919.7,290.6 V368.8" stroke="#bdbdbd" stroke-width="1"/><path d="M919.7,290.6 V308.20000000000005" stroke="#808080" stroke-width="1.2"/><path d="M981.8,290.6 V368.8" stroke="#bdbdbd" stroke-width="1"/><path d="M981.8,290.6 V308.20000000000005" stroke="#808080" stroke-width="1.2"/><path d="M1044.0,290.6 V368.8" stroke="#bdbdbd" stroke-width="1"/><path d="M1044.0,290.6 V308.20000000000005" stroke="#808080" stroke-width="1.2"/><path d="M1106.1,290.6 V368.8" stroke="#bdbdbd" stroke-width="1"/><path d="M1106.1,290.6 V308.20000000000005" stroke="#808080" stroke-width="1.2"/><rect x="484.6" y="290.6" width="683.6" height="78.2" fill="none" stroke="#8c8c8c" stroke-width="1.6"/><text x="515.7" y="304.0" fill="#fff" text-anchor="middle" xml:space="preserve" font-size="12.4">#</text><text x="550.8" y="304.0" fill="#fff" xml:space="preserve">Наиме...</text><text x="612.9" y="304.0" fill="#fff" xml:space="preserve">Дата/в...</text><text x="675.0" y="304.0" fill="#fff" xml:space="preserve">GV1,  ...</text><text x="764.3" y="304.0" fill="#fff" text-anchor="middle" xml:space="preserve" font-size="11.6">GM1, т*ч</text><text x="826.4" y="304.0" fill="#fff" text-anchor="middle" xml:space="preserve" font-size="11.6">GM2, т*ч</text><text x="888.6" y="304.0" fill="#fff" text-anchor="middle" xml:space="preserve" font-size="12.4">T1,  °C</text><text x="950.7" y="304.0" fill="#fff" text-anchor="middle" xml:space="preserve" font-size="12.4">T2,  °C</text><text x="1012.9" y="304.0" fill="#fff" text-anchor="middle" xml:space="preserve" font-size="12.4">ΔT, °C</text><text x="1048.0" y="304.0" fill="#fff" xml:space="preserve">P1, Ат...</text><text x="1110.1" y="304.0" fill="#fff" xml:space="preserve">P2, Ат...</text><text x="490.0" y="322.8" fill="#222" letter-spacing="0.2">1</text><text x="552.1" y="322.8" fill="#222" letter-spacing="0.2">Отоп...</text><text x="614.3" y="322.8" fill="#222" letter-spacing="0.55">04.05...</text><text x="676.8" y="322.8" fill="#222" textLength="27.6" lengthAdjust="spacingAndGlyphs">----</text><text x="738.6" y="322.8" fill="#222" letter-spacing="0.55">3.976</text><text x="800.8" y="322.8" fill="#222" letter-spacing="0.55">3.705</text><text x="862.9" y="322.8" fill="#222" letter-spacing="0.55">80.65</text><text x="925.1" y="322.8" fill="#222" letter-spacing="0.55">47.17</text><text x="987.2" y="322.8" fill="#222" letter-spacing="0.55">33.48</text><text x="1049.4" y="322.8" fill="#222" letter-spacing="0.55">7.999</text><text x="1111.5" y="322.8" fill="#222" letter-spacing="0.55">4.008</text><text x="490.0" y="343.0" fill="#222" letter-spacing="0.2">2</text><text x="552.1" y="343.0" fill="#222" letter-spacing="0.2">ГВС</text><text x="614.3" y="343.0" fill="#222" letter-spacing="0.55">04.05...</text><text x="676.4" y="343.0" fill="#222" letter-spacing="0.55">1.057</text><text x="739.0" y="343.0" fill="#222" textLength="27.6" lengthAdjust="spacingAndGlyphs">----</text><text x="801.1" y="343.0" fill="#222" textLength="27.6" lengthAdjust="spacingAndGlyphs">----</text><text x="863.3" y="343.0" fill="#222" textLength="27.6" lengthAdjust="spacingAndGlyphs">----</text><text x="925.5" y="343.0" fill="#222" textLength="27.6" lengthAdjust="spacingAndGlyphs">----</text><text x="987.6" y="343.0" fill="#222" textLength="27.6" lengthAdjust="spacingAndGlyphs">----</text><text x="1049.4" y="343.0" fill="#222" letter-spacing="0.55">4.366</text><text x="1111.9" y="343.0" fill="#222" textLength="27.6" lengthAdjust="spacingAndGlyphs">----</text><text x="490.0" y="363.2" fill="#222" letter-spacing="0.2">3</text><text x="552.1" y="363.2" fill="#222" letter-spacing="0.2">ХВС</text><text x="614.3" y="363.2" fill="#222" letter-spacing="0.55">04.05...</text><text x="676.4" y="363.2" fill="#222" letter-spacing="0.55">0.842</text><text x="739.0" y="363.2" fill="#222" textLength="27.6" lengthAdjust="spacingAndGlyphs">----</text><text x="801.1" y="363.2" fill="#222" textLength="27.6" lengthAdjust="spacingAndGlyphs">----</text><text x="863.3" y="363.2" fill="#222" textLength="27.6" lengthAdjust="spacingAndGlyphs">----</text><text x="925.5" y="363.2" fill="#222" textLength="27.6" lengthAdjust="spacingAndGlyphs">----</text><text x="987.6" y="363.2" fill="#222" textLength="27.6" lengthAdjust="spacingAndGlyphs">----</text><text x="1049.8" y="363.2" fill="#222" textLength="27.6" lengthAdjust="spacingAndGlyphs">----</text><text x="1111.9" y="363.2" fill="#222" textLength="27.6" lengthAdjust="spacingAndGlyphs">----</text></g>
<g font-family="'Liberation Sans', sans-serif" font-weight="bold">
<text x="340.6" y="263.6" font-size="14.5" fill="#111" text-anchor="start" textLength="104.2" lengthAdjust="spacingAndGlyphs">Холодная вода</text>
<text x="340.9" y="325.8" font-size="14.2" fill="#111" text-anchor="start" textLength="26.9" lengthAdjust="spacingAndGlyphs">ГВС</text>
<text x="402.8" y="382" font-size="14.5" fill="#111" text-anchor="start" textLength="69.2" lengthAdjust="spacingAndGlyphs">Сан. узлы</text>
<text x="491.4" y="607.3" font-size="14.5" fill="#111" text-anchor="start" textLength="53.4" lengthAdjust="spacingAndGlyphs">Прямая</text>
<text x="472.4" y="623.8" font-size="14.5" fill="#111" text-anchor="start" textLength="91.4" lengthAdjust="spacingAndGlyphs">сетевая вода</text>
<text x="225.8" y="948" font-size="14.5" fill="#111" text-anchor="start" textLength="114.4" lengthAdjust="spacingAndGlyphs">Пожаротушение</text>
<text x="440.8" y="929.5" font-size="14.5" fill="#111" text-anchor="start" textLength="66" lengthAdjust="spacingAndGlyphs">Обратная</text>
<text x="428.2" y="946" font-size="14.5" fill="#111" text-anchor="start" textLength="91.4" lengthAdjust="spacingAndGlyphs">сетевая вода</text>
<text x="319.2" y="561.4" font-size="16" fill="#a30fc4" text-anchor="start" >P1</text>
<text x="314" y="627.4" font-size="16" fill="#a30fc4" text-anchor="start" textLength="30.6" lengthAdjust="spacingAndGlyphs">GV1</text>
<text x="387.6" y="589.3" font-size="16" fill="#a30fc4" text-anchor="start" textLength="30.6" lengthAdjust="spacingAndGlyphs">GV1</text>
<text x="569.7" y="631.5" font-size="16" fill="#a30fc4" text-anchor="start" >P1</text>
<text x="656" y="640.6" font-size="16" fill="#a30fc4" text-anchor="start" >T1</text>
<text x="689.4" y="702.9" font-size="16" fill="#a30fc4" text-anchor="start" textLength="33.8" lengthAdjust="spacingAndGlyphs">GM1</text>
<text x="974.6" y="903" font-size="16" fill="#a30fc4" text-anchor="start" >GM2</text>
<text x="1025.6" y="903" font-size="16" fill="#a30fc4" text-anchor="start" >P2</text>
<text x="1122.4" y="903" font-size="16" fill="#a30fc4" text-anchor="start" >T2</text>
<text x="1230.6" y="290.6" font-size="18.2" fill="#f0624c" text-anchor="start" >T1</text>
<text x="1334.6" y="290.6" font-size="18.2" fill="#ffc24e" text-anchor="start" >T2</text>
<text x="474" y="665.4" font-size="14.2" fill="#f0624c" text-anchor="start" >T1</text>
<text x="429.2" y="876.6" font-size="14.2" fill="#ffc24e" text-anchor="start" >T2</text>
</g>
<text x="830.8" y="271" font-family="'DejaVu Sans', sans-serif" font-weight="bold" font-size="17.2" text-anchor="middle" fill="#111">Показания тепловычислителя</text>
</svg>
</body></html>
